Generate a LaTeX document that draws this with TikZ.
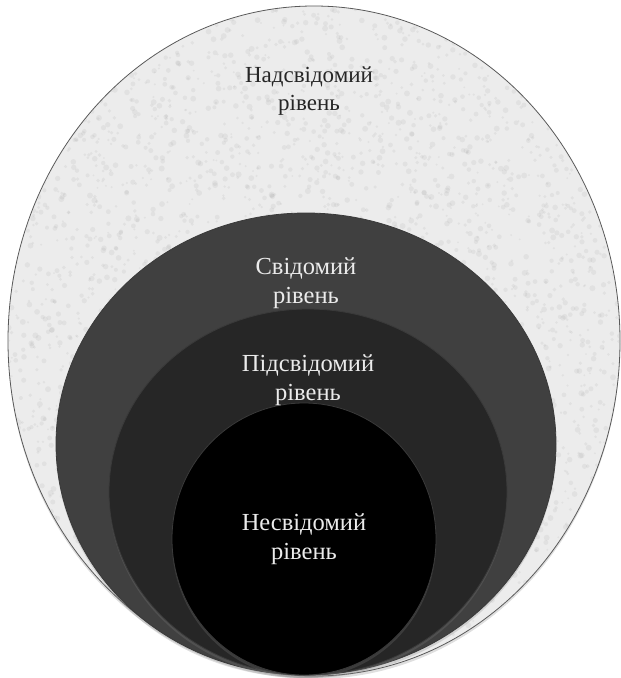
\documentclass[tikz,border=0pt]{standalone}
\usepackage{fontspec}
\setmainfont{Liberation Serif}
\usetikzlibrary{shadows}
\definecolor{outerfill}{HTML}{ECECEC}
\definecolor{ringA}{HTML}{404040}
\definecolor{ringB}{HTML}{262626}
\definecolor{ringC}{HTML}{000000}
\definecolor{edgeC}{HTML}{3A3A3A}
\tikzset{
  layer/.style={draw=edgeC, line width=0.8pt, drop shadow={shadow xshift=0pt, shadow yshift=-3pt, opacity=0.25}},
  lbl/.style={font=\fontsize{24.5}{28.5}\selectfont, align=center, inner sep=0pt},
  lightlbl/.style={lbl, text=white!92!black},
  darklbl/.style={lbl, font=\fontsize{23}{28}\selectfont, text=black!85}
}
\begin{document}
\begin{tikzpicture}[x=1pt,y=-1pt]
\useasboundingbox (0,0) rectangle (621,678);
% outer ellipse
\path[layer, fill=outerfill, draw=black!65] (314,341) ellipse [x radius=306, y radius=335];
% texture specks
\begin{scope}
\clip (314,341) ellipse [x radius=305, y radius=334];
\pgfmathsetseed{7}
\foreach \i in {1,...,4500}{
  \pgfmathsetmacro{\px}{rnd*621}
  \pgfmathsetmacro{\py}{rnd*678}
  \pgfmathsetmacro{\rr}{1.0+rnd*2.0}
  \fill[black!45!white, opacity=0.11] (\px,\py) circle [radius=\rr];
}
\end{scope}
\path[layer, fill=ringA] (306,444) ellipse [x radius=250, y radius=231];
\path[layer, fill=ringB] (308,492) ellipse [x radius=199, y radius=183];
\path[layer, fill=ringC] (304,539) ellipse [x radius=132, y radius=136];
\node[darklbl] (nad) at (309,91) {Надсвідомий\\рівень};
\node[lightlbl] (svi) at (306,283) {Свідомий\\рівень};
\node[lightlbl] (pid) at (308,380) {Підсвідомий\\рівень};
\node[lightlbl] (nes) at (304,539) {Несвідомий\\рівень};
\end{tikzpicture}
\end{document}
